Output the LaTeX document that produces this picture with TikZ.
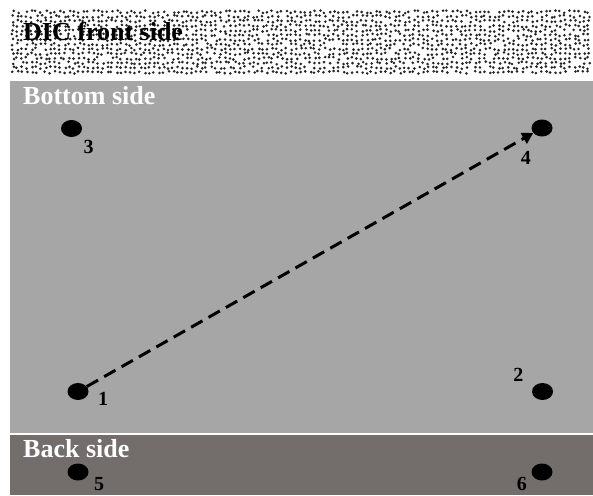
\documentclass[tikz,border=0pt]{standalone}
\usepackage{fontspec}
\setmainfont{Liberation Serif}
\usetikzlibrary{positioning, arrows.meta, shapes.geometric}

\definecolor{bottomgray}{HTML}{A6A6A6}
\definecolor{backgray}{HTML}{736D6C}
\definecolor{speck}{HTML}{262626}

\begin{document}
\begin{tikzpicture}[x=1pt, y=-1pt,
    spot/.style={ellipse, fill=black, inner sep=0pt,
                 minimum width=21pt, minimum height=17pt},
    num/.style={font=\fontsize{20}{20}\selectfont\bfseries, inner sep=0pt},
    side/.style={font=\fontsize{26}{26}\selectfont\bfseries, inner sep=0pt,
                 anchor=base west},
    arr/.style={-{Triangle[length=11pt, width=12pt]}, line width=3pt,
                dash pattern=on 13pt off 7pt}
  ]
  \useasboundingbox (0,0) rectangle (593,495);
  \fill[white] (0,0) rectangle (593,495);

  % speckle band
  \pgfmathsetseed{7}
  \foreach \cx in {0,...,122}{
    \foreach \cy in {0,...,13}{
      \pgfmathsetmacro\px{11.5+4.72*\cx+2.6*rnd}
      \pgfmathsetmacro\py{10.5+4.65*\cy+2.6*rnd}
      \pgfmathsetmacro\keep{rnd}
      \ifdim\keep pt>0.06pt
        \fill[speck] (\px,\py) circle[radius=1.45];
      \fi
    }
  }

  % sides
  \fill[bottomgray] (10,81) rectangle (593,433);
  \fill[backgray]   (10,435) rectangle (593,495);

  \node[side] (front)  at (23,41)  {DIC front side};
  \node[side, text=white] (bottom) at (23,104) {Bottom side};
  \node[side, text=white] (back)   at (23,457) {Back side};

  % points
  \node[spot] (d3) at (71.5,128.5) {};
  \node[spot] (d4) at (542,128)    {};
  \node[spot] (d1) at (78,391.5)   {};
  \node[spot] (d2) at (542.5,391.5) {};
  \node[spot] (d5) at (78,472)     {};
  \node[spot] (d6) at (542,472)    {};

  \node[num, below right=12pt and 12pt of d3.center] (n3) {3};
  \node[num, below left=23pt and 11pt of d4.center]  (n4) {4};
  \node[num, below right=1pt and 20pt of d1.center]  (n1) {1};
  \node[num, above left=10pt and 19pt of d2.center]  (n2) {2};
  \node[num, below right=5pt and 16pt of d5.center]  (n5) {5};
  \node[num, below left=5pt and 15pt of d6.center]   (n6) {6};

  \draw[arr] (d1) -- (d4);
\end{tikzpicture}
\end{document}
